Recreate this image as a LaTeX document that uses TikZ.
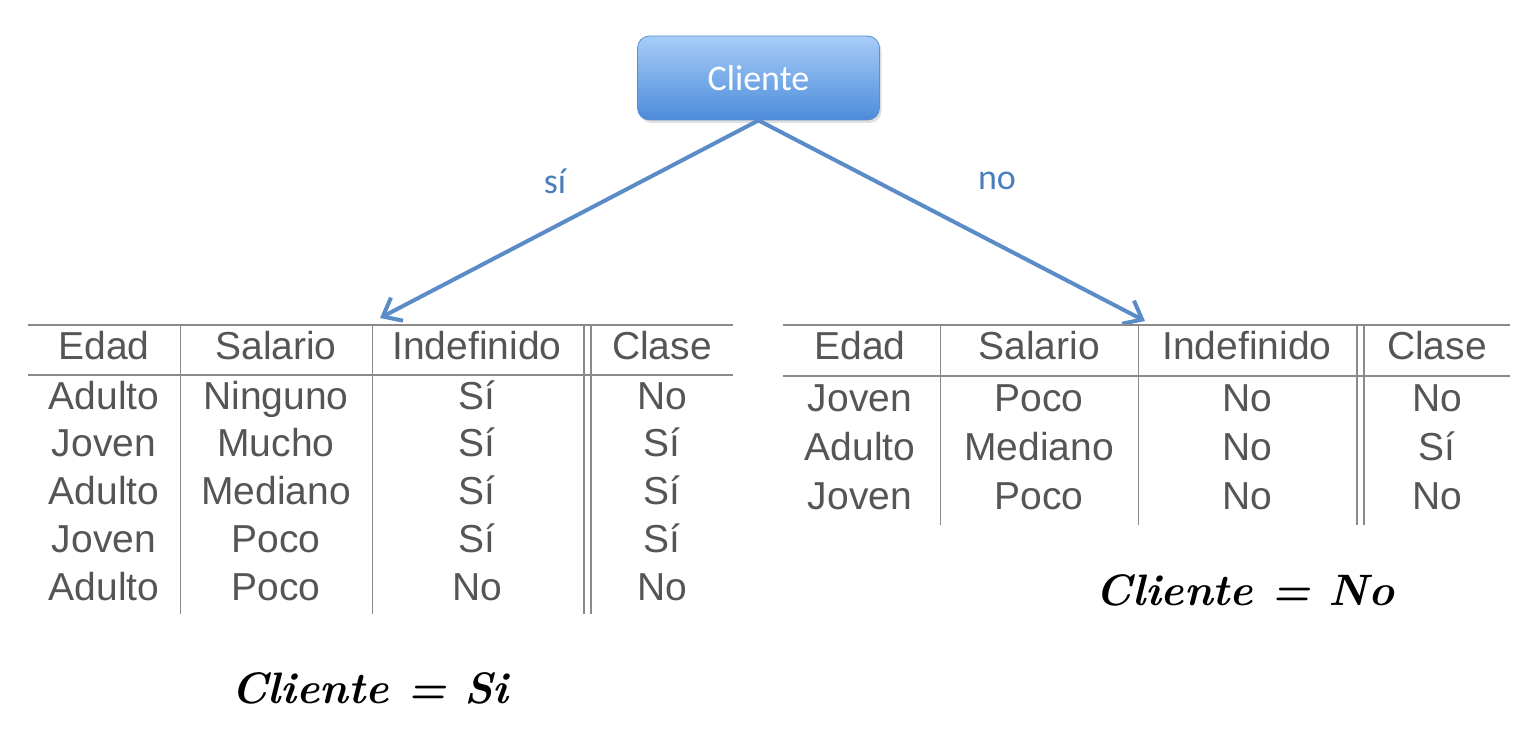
\documentclass[tikz,border=0pt]{standalone}
\usepackage{fontspec}
\usepackage{tikz}
\usetikzlibrary{arrows.meta,calc,shadows}
\newfontfamily\tabfont{Liberation Sans}
\newfontfamily\boxfont{Carlito}
\definecolor{arrowblue}{HTML}{5B8CC7}
\definecolor{labelblue}{HTML}{4A7EBB}
\definecolor{celltext}{HTML}{555555}
\definecolor{rulegray}{HTML}{8A8A8A}
\definecolor{boxtop}{HTML}{A8CDF8}
\definecolor{boxbottom}{HTML}{4C8BDA}
\definecolor{boxline}{HTML}{5B8FD0}

\begin{document}
\begin{tikzpicture}[x=0.5pt,y=-0.5pt,
      branch/.style={draw=arrowblue,line width=2pt,-{Straight Barb[length=8pt,width=13pt,line width=2pt]}},
      rootbox/.style={draw=boxline,rounded corners=6pt,minimum width=121pt,minimum height=42pt,
        top color=boxtop,bottom color=boxbottom,
        drop shadow={opacity=0.25,shadow xshift=1pt,shadow yshift=-1.5pt},
        text=white,font=\boxfont\fontsize{18}{20}\selectfont},
      branchlabel/.style={text=labelblue,font=\boxfont\fontsize{18}{20}\selectfont},
      cell/.style={text=celltext,font=\tabfont\fontsize{19.5}{22}\selectfont,inner sep=0pt,
        text height=14pt,text depth=4pt},
      tabrule/.style={draw=rulegray,line width=0.8pt},
      hand/.style={font=\bfseries\itshape\fontsize{22}{24}\selectfont}]
      \useasboundingbox (0,0) rectangle (1519,733);

      \node[rootbox] (cliente) at (758.5, 78) {Cliente};
      \coordinate (lt) at (380, 318);
      \coordinate (rt) at (1145, 321);
      \draw[branch] (cliente.south) -- (lt);
      \draw[branch] (cliente.south) -- (rt);
      \node[branchlabel] (si) at (555, 181) {sí};
      \node[branchlabel] (no) at (997, 181) {no};

      % left table: rules
      \draw[tabrule] (28, 325) -- (733, 325);
      \draw[tabrule] (28, 375) -- (733, 375);
      \draw[tabrule] (180.5, 325) -- (180.5, 614);
      \draw[tabrule] (372.5, 325) -- (372.5, 614);
      \draw[tabrule] (584, 325) -- (584, 614);
      \draw[tabrule] (591, 325) -- (591, 614);

      \node[cell] (le) at (104, 349) {Edad};
      \node[cell] (ls) at (276, 349) {Salario};
      \node[cell] (li) at (477, 349) {Indefinido};
      \node[cell] (lc) at (662, 349) {Clase};

      \node[cell] (l1e) at (104, 399) {Adulto};
      \node[cell] (l1s) at (276, 399) {Ninguno};
      \node[cell] (l1i) at (477, 399) {Sí};
      \node[cell] (l1c) at (662, 399) {No};

      \node[cell] (l2e) at (104, 446) {Joven};
      \node[cell] (l2s) at (276, 446) {Mucho};
      \node[cell] (l2i) at (477, 446) {Sí};
      \node[cell] (l2c) at (662, 446) {Sí};

      \node[cell] (l3e) at (104, 494) {Adulto};
      \node[cell] (l3s) at (276, 494) {Mediano};
      \node[cell] (l3i) at (477, 494) {Sí};
      \node[cell] (l3c) at (662, 494) {Sí};

      \node[cell] (l4e) at (104, 542) {Joven};
      \node[cell] (l4s) at (276, 542) {Poco};
      \node[cell] (l4i) at (477, 542) {Sí};
      \node[cell] (l4c) at (662, 542) {Sí};

      \node[cell] (l5e) at (104, 590) {Adulto};
      \node[cell] (l5s) at (276, 590) {Poco};
      \node[cell] (l5i) at (477, 590) {No};
      \node[cell] (l5c) at (662, 590) {No};

      % right table: rules
      \draw[tabrule] (783, 325) -- (1510, 325);
      \draw[tabrule] (783, 376) -- (1510, 376);
      \draw[tabrule] (940.5, 325) -- (940.5, 525);
      \draw[tabrule] (1138.5, 325) -- (1138.5, 525);
      \draw[tabrule] (1357, 325) -- (1357, 525);
      \draw[tabrule] (1364, 325) -- (1364, 525);

      \node[cell] (re) at (860, 349) {Edad};
      \node[cell] (rs) at (1039, 349) {Salario};
      \node[cell] (ri) at (1247, 349) {Indefinido};
      \node[cell] (rc) at (1437, 349) {Clase};

      \node[cell] (r1e) at (860, 401) {Joven};
      \node[cell] (r1s) at (1039, 401) {Poco};
      \node[cell] (r1i) at (1247, 401) {No};
      \node[cell] (r1c) at (1437, 401) {No};

      \node[cell] (r2e) at (860, 450) {Adulto};
      \node[cell] (r2s) at (1039, 450) {Mediano};
      \node[cell] (r2i) at (1247, 450) {No};
      \node[cell] (r2c) at (1437, 450) {Sí};

      \node[cell] (r3e) at (860, 499) {Joven};
      \node[cell] (r3s) at (1039, 499) {Poco};
      \node[cell] (r3i) at (1247, 499) {No};
      \node[cell] (r3c) at (1437, 499) {No};

      % handwritten notes
      \node[hand] (notesi) at (370, 688) {Cliente = Si};
      \node[hand] (noteno) at (1245, 590) {Cliente = No};
      \end{tikzpicture}
\end{document}
